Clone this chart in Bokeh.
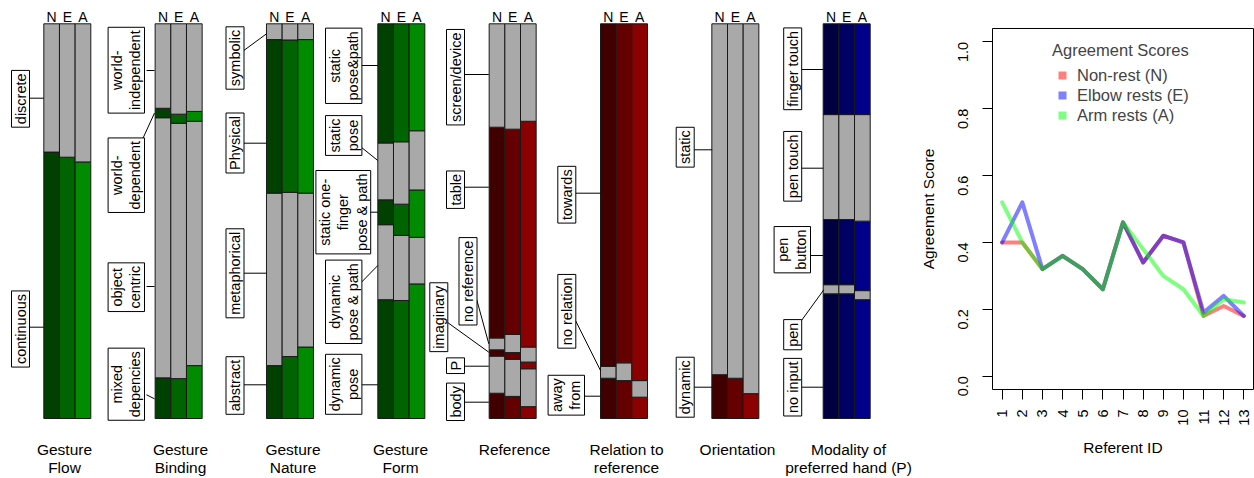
import math
from bokeh.plotting import figure
from bokeh.models import (ColumnDataSource, Range1d, Label, Legend, LegendItem,
                          FixedTicker, PrintfTickFormatter)
from bokeh.layouts import row
from bokeh.embed import file_html
from bokeh.resources import INLINE
from bokeh.core.properties import value

FONT = "Liberation Sans"

# ---------------- data: shares per category, stacked bottom -> top; bars N, E, A
bar_names = ["N", "E", "A"]

flow_cats = ["continuous", "discrete"]
flow_N = [0.675, 0.325]
flow_E = [0.662, 0.338]
flow_A = [0.650, 0.350]

binding_cats = ["mixed\ndepencies", "object\ncentric", "world-\ndependent", "world-\nindependent"]
binding_N = [0.103, 0.659, 0.024, 0.214]
binding_E = [0.101, 0.647, 0.023, 0.229]
binding_A = [0.134, 0.619, 0.025, 0.222]

nature_cats = ["abstract", "metaphorical", "Physical", "symbolic"]
nature_N = [0.134, 0.437, 0.389, 0.040]
nature_E = [0.157, 0.416, 0.386, 0.041]
nature_A = [0.181, 0.390, 0.389, 0.040]

form_cats = ["dynamic\npose", "dynamic\npose & path", "static one-\nfinger\npose & path",
             "static\npose", "static\npose&path"]
form_N = [0.301, 0.190, 0.063, 0.144, 0.302]
form_E = [0.299, 0.165, 0.079, 0.158, 0.299]
form_A = [0.341, 0.118, 0.120, 0.150, 0.271]

reference_cats = ["body", "P", "imaginary", "no reference", "table", "screen/device"]
reference_N = [0.064, 0.094, 0.016, 0.030, 0.534, 0.262]
reference_E = [0.056, 0.094, 0.017, 0.046, 0.520, 0.267]
reference_A = [0.030, 0.096, 0.017, 0.038, 0.572, 0.247]

relation_cats = ["away\nfrom", "no relation", "towards"]
relation_N = [0.102, 0.030, 0.868]
relation_E = [0.096, 0.045, 0.859]
relation_A = [0.054, 0.042, 0.904]

orientation_cats = ["dynamic", "static"]
orientation_N = [0.111, 0.889]
orientation_E = [0.102, 0.898]
orientation_A = [0.063, 0.937]

modality_cats = ["no input", "pen", "pen\nbutton", "pen touch", "finger touch"]
modality_N = [0.316, 0.023, 0.165, 0.266, 0.230]
modality_E = [0.316, 0.023, 0.165, 0.266, 0.230]
modality_A = [0.301, 0.023, 0.176, 0.270, 0.230]

panel_titles = ["Gesture\nFlow", "Gesture\nBinding", "Gesture\nNature", "Gesture\nForm",
                "Reference", "Relation to\nreference", "Orientation",
                "Modality of\npreferred hand (P)"]

referent_ids = [1, 2, 3, 4, 5, 6, 7, 8, 9, 10, 11, 12, 13]
score_N = [0.40, 0.40, 0.32, 0.36, 0.32, 0.26, 0.46, 0.34, 0.42, 0.40, 0.18, 0.21, 0.18]
score_E = [0.40, 0.52, 0.32, 0.36, 0.32, 0.26, 0.46, 0.34, 0.42, 0.40, 0.19, 0.24, 0.18]
score_A = [0.52, 0.40, 0.32, 0.36, 0.32, 0.26, 0.46, 0.38, 0.30, 0.26, 0.18, 0.23, 0.22]
series_names = ["Non-rest (N)", "Elbow rests (E)", "Arm rests (A)"]

# ---------------- styling / layout
GRAY = "#A9A9A9"
FAMILY = {
    "green": ["#004000", "#006400", "#008B00"],
    "red": ["#400000", "#640000", "#8B0000"],
    "blue": ["#000040", "#000064", "#00008B"],
}

panels = [
    (flow_cats, [flow_N, flow_E, flow_A], "green"),
    (binding_cats, [binding_N, binding_E, binding_A], "green"),
    (nature_cats, [nature_N, nature_E, nature_A], "green"),
    (form_cats, [form_N, form_E, form_A], "green"),
    (reference_cats, [reference_N, reference_E, reference_A], "red"),
    (relation_cats, [relation_N, relation_E, relation_A], "red"),
    (orientation_cats, [orientation_N, orientation_E, orientation_A], "red"),
    (modality_cats, [modality_N, modality_E, modality_A], "blue"),
]

# annotation placement (screen px): box centre x,y and leader line x0,y0,x1,y1
label_layout = [
    [(20, 328.5, 29, 326.7, 43.3, 326.7), (20, 98.3, 29, 97.7, 43.3, 97.7)],
    [(125.8, 383.7, 146, 394.3, 154, 398.3), (125.8, 286.7, 146, 286, 154, 286),
     (125.8, 174.7, 141, 141, 154, 112.5), (125.8, 69.7, 146, 70, 154, 70)],
    [(234.5, 385, 243.3, 384.3, 266, 384.3), (234.5, 272.8, 243.3, 272.7, 266, 272.7),
     (234.5, 142.5, 243.3, 142.7, 266, 142.7), (234.5, 57.5, 243.3, 50, 266, 33.3)],
    [(343.2, 383.8, 360.7, 384.3, 377.3, 384.3), (343.2, 301.3, 361, 281.7, 377.3, 265),
     (342.8, 211.7, 369, 211.7, 377.3, 211.7), (343.2, 135, 360.7, 146.7, 377.3, 160),
     (343.2, 65.3, 360.7, 65, 377.3, 65)],
    [(455, 401.3, 463.3, 401.7, 488.3, 401.7), (455, 365.2, 463.3, 365.7, 488.3, 365.7),
     (438.3, 316.7, 446.7, 321.7, 488.3, 351.7), (467.5, 280.8, 476, 298.3, 488.3, 343.3),
     (455, 189.2, 463.3, 186.7, 488.3, 186.7), (455, 76.7, 463.3, 74, 488.3, 74)],
    [(565.8, 394.7, 583.3, 395.7, 600, 395.7), (566.3, 310.8, 575, 320, 600, 370),
     (566.3, 194.2, 575, 192.7, 600, 192.7)],
    [(684.7, 386.7, 693.3, 386.7, 711.7, 386.7), (684.7, 146.7, 693.3, 149.3, 711.7, 149.3)],
    [(792.2, 386.7, 801, 386.7, 822.7, 386.7), (792.2, 334.2, 801, 320, 823.3, 289.3),
     (791.8, 249.2, 809.3, 255, 822.7, 255), (792.2, 165.8, 801, 167.7, 822.7, 167.7),
     (792.2, 68.3, 801, 69, 822.7, 69)],
]
title_x = [64, 180, 292.5, 400, 514, 626, 737, 848]
title_line_y = [449, 466.5]

GROUP_X0 = 43.3
GROUP_STEP = 111.34
BAR_W = 15.67
BASE_PX = 418.0
SPAN_PX = 394.7
LEFT_W, LEFT_H = 912, 478
RIGHT_W, RIGHT_H = 342, 478


def fy(py):
    """screen pixel row -> share axis value"""
    return (BASE_PX - py) / SPAN_PX


# ---------------- left: stacked share bars
p1 = figure(width=LEFT_W, height=LEFT_H, output_backend="svg", toolbar_location=None,
            title=None,
            x_range=Range1d(0, LEFT_W), y_range=Range1d(fy(LEFT_H), fy(0)),
            x_axis_type=None, y_axis_type=None, min_border=0)
p1.outline_line_color = None
p1.grid.visible = False
p1.frame_align = False

quads = dict(left=[], right=[], bottom=[], top=[], color=[])
heads = dict(x=[], y=[], t=[])
for i, (cats, vals, fam) in enumerate(panels):
    gx = GROUP_X0 + i * GROUP_STEP
    for j, series in enumerate(vals):
        left = gx + j * BAR_W
        cum = 0.0
        for k, v in enumerate(series):
            quads["left"].append(left)
            quads["right"].append(left + BAR_W)
            quads["bottom"].append(cum)
            quads["top"].append(cum + v)
            quads["color"].append(FAMILY[fam][j] if k % 2 == 0 else GRAY)
            cum += v
        heads["x"].append(left + BAR_W / 2)
        heads["y"].append(fy(16))
        heads["t"].append(bar_names[j])

p1.quad(left="left", right="right", bottom="bottom", top="top", fill_color="color",
        line_color="#1a1a1a", line_width=1, source=ColumnDataSource(quads))
p1.text(x="x", y="y", text="t", source=ColumnDataSource(heads), text_font=value(FONT),
        text_font_size="14px", text_align="center", text_baseline="middle",
        text_color="black")

seg = dict(x0=[], y0=[], x1=[], y1=[])
for i, (cats, vals, fam) in enumerate(panels):
    for k, cat in enumerate(cats):
        cx, cy, x0, y0, x1, y1 = label_layout[i][k]
        seg["x0"].append(x0); seg["y0"].append(fy(y0))
        seg["x1"].append(x1); seg["y1"].append(fy(y1))
        p1.add_layout(Label(x=cx, y=fy(cy), text=cat, angle=math.pi / 2,
                            text_align="center", text_baseline="middle",
                            text_font=FONT, text_font_size="14.5px", text_color="black",
                            text_line_height=1.15,
                            background_fill_color="white", border_line_color="black",
                            border_line_width=1, padding=(3, 1)))
p1.segment(x0="x0", y0="y0", x1="x1", y1="y1", source=ColumnDataSource(seg),
           line_color="black", line_width=1)

for i, t in enumerate(panel_titles):
    for li, line in enumerate(t.split("\n")):
        p1.add_layout(Label(x=title_x[i], y=fy(title_line_y[li]), text=line,
                            text_align="center", text_baseline="middle",
                            text_font=FONT, text_font_size="15.5px", text_color="black"))

# ---------------- right: agreement scores
p2 = figure(width=RIGHT_W, height=RIGHT_H, output_backend="svg", toolbar_location=None,
            title=None,
            x_range=Range1d(0.52, 13.48), y_range=Range1d(-0.04, 1.04),
            min_border_left=80, min_border_right=1, min_border_top=28, min_border_bottom=89)
p2.grid.visible = False
p2.outline_line_color = "black"
p2.outline_line_width = 1
p2.outline_line_alpha = 1
p2.frame_align = False

colors = ["#FF0000", "#0000FF", "#00FF00"]
items = []
for vals, col, name in zip([score_N, score_E, score_A], colors, series_names):
    p2.line(referent_ids, vals, line_color=col, line_alpha=0.5, line_width=4,
            line_join="round", line_cap="round")
for vals, col, name in zip([score_N, score_E, score_A], colors, series_names):
    r = p2.scatter(referent_ids[:1], vals[:1], marker="square", size=0,
                   fill_color=col, fill_alpha=0.5, line_color=None)
    items.append(LegendItem(label=name, renderers=[r]))

legend = Legend(items=items, title="Agreement Scores", location=(60, 264),
                border_line_color=None, background_fill_alpha=0, padding=0, margin=0,
                spacing=0, glyph_width=20, glyph_height=20, label_height=20,
                label_standoff=5, title_standoff=5,
                label_text_font=FONT, label_text_font_size="16.5px",
                title_text_font=FONT, title_text_font_size="16.5px",
                title_text_font_style="normal")
p2.add_layout(legend)

for ax in (p2.xaxis[0], p2.yaxis[0]):
    ax.axis_line_color = None
    ax.major_tick_line_color = "black"
    ax.major_tick_out = 10
    ax.major_tick_in = 0
    ax.minor_tick_line_color = None
    ax.major_label_text_font = FONT
    ax.major_label_text_font_size = "14.5px"
    ax.major_label_text_color = "black"
    ax.axis_label_text_font = FONT
    ax.axis_label_text_font_size = "15.5px"
    ax.axis_label_text_font_style = "normal"
    ax.axis_label_text_color = "black"

p2.xaxis.ticker = FixedTicker(ticks=referent_ids)
p2.xaxis.major_label_orientation = math.pi / 2
p2.xaxis.major_label_standoff = 10
p2.xaxis.axis_label = "Referent ID"
p2.xaxis.axis_label_standoff = 10

p2.yaxis.ticker = FixedTicker(ticks=[0.0, 0.2, 0.4, 0.6, 0.8, 1.0])
p2.yaxis.formatter = PrintfTickFormatter(format="%.1f")
p2.yaxis.major_label_orientation = math.pi / 2
p2.yaxis.major_label_standoff = 19
p2.yaxis.axis_label = "Agreement Score"
p2.yaxis.axis_label_standoff = 14

layout = row(p1, p2)
open("out.html", "w").write(file_html(layout, INLINE))
